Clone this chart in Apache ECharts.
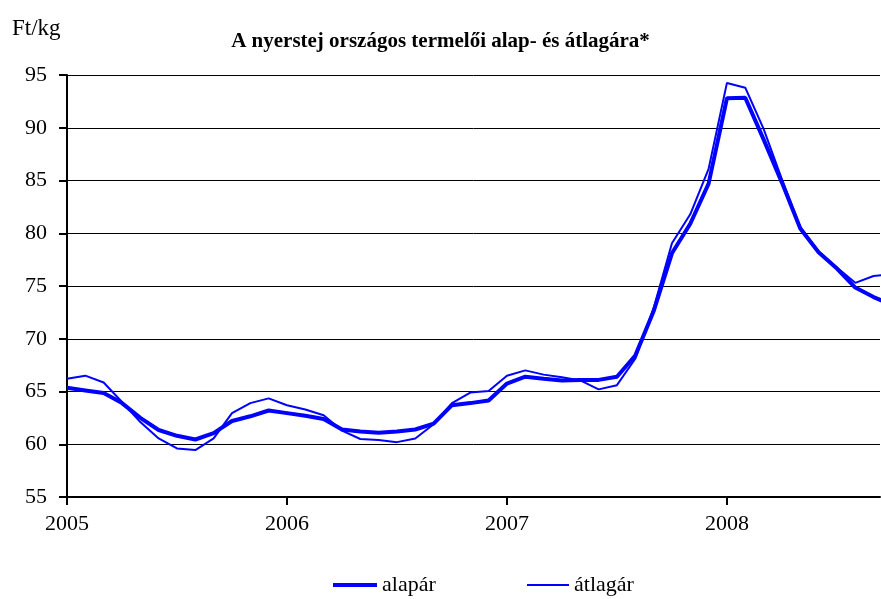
<!DOCTYPE html>
<html>
<head>
<meta charset="utf-8">
<script src="https://cdn.jsdelivr.net/npm/echarts@6/dist/echarts.min.js"></script>
<style>
  html, body { margin: 0; padding: 0; background: #fff; }
  #chart { width: 881px; height: 599px; }
</style>
</head>
<body>
<div id="chart"></div>
<script>
// havi adatok 2005 január-tól (0 = 2005 jan)
const yearLabels = ['2005', '2006', '2007', '2008'];
const yearTicks = [0, 12, 24, 36];

// alapár (vastag vonal)
const alapar = [
    65.35, 65.1, 64.85, 63.9, 62.5, 61.35, 60.8, 60.45, 61.05, 62.2, 62.65, 63.2,
    62.95, 62.7, 62.4, 61.4, 61.2, 61.1, 61.2, 61.4, 61.95, 63.7, 63.9, 64.15,
    65.75, 66.4, 66.2, 66.05, 66.1, 66.1, 66.4, 68.4, 72.6, 78.1, 80.9, 84.7,
    92.8, 92.85, 88.9, 84.8, 80.45, 78.2, 76.65, 74.85, 73.95, 73.2
];

// átlagár (vékony vonal)
const atlagar = [
    66.2, 66.5, 65.85, 64.0, 62.1, 60.55, 59.6, 59.45, 60.55, 62.95, 63.9, 64.35,
    63.7, 63.3, 62.75, 61.3, 60.5, 60.4, 60.2, 60.55, 61.9, 63.9, 64.9, 65.05,
    66.5, 67.0, 66.6, 66.35, 66.05, 65.2, 65.6, 68.1, 72.9, 79.05, 81.8, 86.1,
    94.25, 93.8, 89.9, 85.1, 80.6, 78.25, 76.75, 75.3, 75.95, 76.1
];

const font = 'Liberation Serif, Times New Roman, serif';
const legendText = { fontFamily: font, fontSize: 22, color: '#000' };

var chart = echarts.init(document.getElementById('chart'));
chart.setOption({
    animation: false,
    title: {
        text: 'A nyerstej országos termelői alap- és átlagára*',
        left: 'center',
        top: 31,
        padding: 0,
        textStyle: {
            fontFamily: font,
            fontWeight: 'bold',
            fontSize: 21,
            color: '#000',
        },
    },
    graphic: [
        {
            type: 'text',
            left: 12,
            top: 17,
            style: {
                text: 'Ft/kg',
                font: '23px ' + font,
                fill: '#000',
            },
        },
    ],
    // két külön jelmagyarázat a különböző vonalvastagság miatt
    legend: [
        {
            left: 333,
            top: 574,
            padding: 0,
            icon: 'rect',
            itemWidth: 44,
            itemHeight: 4,
            textStyle: legendText,
            data: ['alapár'],
        },
        {
            left: 527,
            top: 574,
            padding: 0,
            icon: 'rect',
            itemWidth: 42,
            itemHeight: 2,
            textStyle: legendText,
            data: ['átlagár'],
        },
    ],
    grid: {
        left: 67,
        right: 1,
        top: 75,
        bottom: 102,
    },
    xAxis: {
        type: 'value',
        min: 0,
        max: 44.35,
        interval: 12,
        axisLine: { lineStyle: { color: '#000', width: 2 } },
        axisTick: {
            customValues: yearTicks,
            length: 8,
            lineStyle: { color: '#000', width: 2 },
        },
        axisLabel: {
            customValues: yearTicks,
            margin: 16,
            fontFamily: font,
            fontSize: 22,
            color: '#000',
            formatter: function (v) {
                return yearLabels[Math.round(v / 12)] || '';
            },
        },
        splitLine: { show: false },
    },
    yAxis: {
        type: 'value',
        min: 55,
        max: 95,
        interval: 5,
        axisLine: { show: true, lineStyle: { color: '#000', width: 2 } },
        axisTick: { show: true, length: 8, lineStyle: { color: '#000', width: 2 } },
        axisLabel: {
            margin: 20,
            fontFamily: font,
            fontSize: 22,
            color: '#000',
        },
        splitLine: { lineStyle: { color: '#000', width: 1 } },
    },
    series: [
        {
            name: 'alapár',
            type: 'line',
            symbol: 'none',
            clip: true,
            color: '#0000FF',
            lineStyle: { width: 4, color: '#0000FF' },
            data: alapar.map((v, i) => [i, v]),
        },
        {
            name: 'átlagár',
            type: 'line',
            symbol: 'none',
            clip: true,
            color: '#0000FF',
            lineStyle: { width: 2, color: '#0000FF' },
            data: atlagar.map((v, i) => [i, v]),
        },
    ],
});
</script>
</body>
</html>
